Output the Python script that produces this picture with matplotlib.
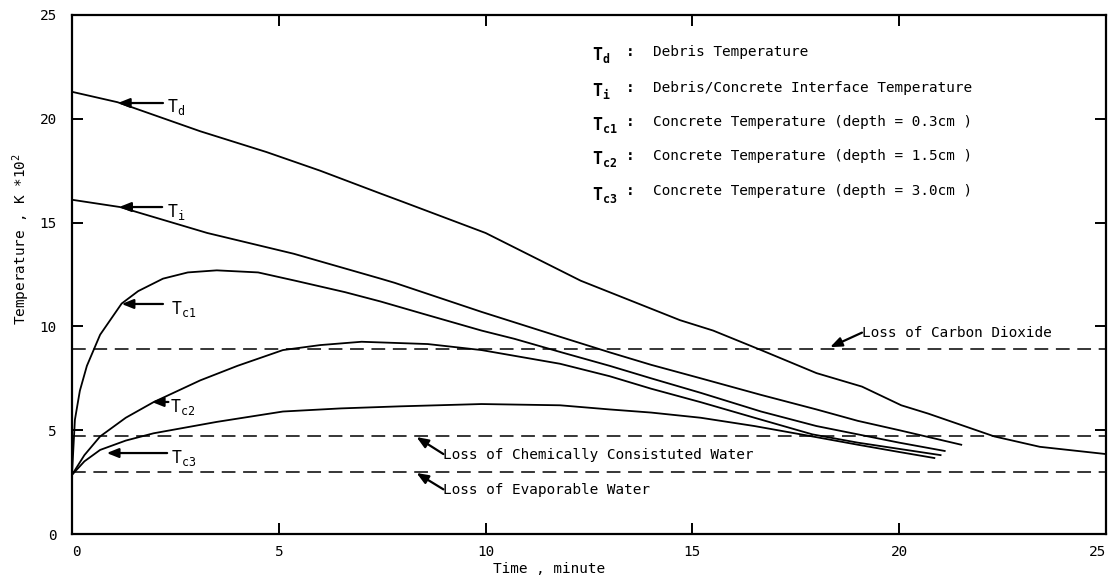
import matplotlib
matplotlib.use("Agg")
import matplotlib.pyplot as plt

plt.rcParams['font.family'] = ['DejaVu Sans Mono', 'DejaVu Sans']
plt.rcParams['mathtext.fontset'] = 'custom'
plt.rcParams['mathtext.rm'] = 'DejaVu Sans Mono'
plt.rcParams['mathtext.it'] = 'DejaVu Sans Mono'
plt.rcParams['mathtext.bf'] = 'DejaVu Sans Mono:bold'

# ---- data (time in minutes, temperature in K*1e2) ----
td_x = [0, 1.1, 3.1, 4.7, 6.0, 7.46, 8.0, 10.0, 12.3, 14.7, 15.5, 16.66, 18.0, 19.1, 20.05, 20.7, 22.3, 23.4, 25.0]
td_y = [21.3, 20.8, 19.4, 18.4, 17.5, 16.4, 16.0, 14.5, 12.2, 10.3, 9.8, 8.86, 7.75, 7.1, 6.2, 5.8, 4.7, 4.2, 3.85]

ti_x = [0, 1.16, 3.27, 5.36, 7.46, 7.8, 9.9, 11.8, 13.0, 14.0, 15.2, 16.66, 18.0, 19.0, 20.0, 21.5]
ti_y = [16.1, 15.75, 14.5, 13.5, 12.3, 12.1, 10.7, 9.5, 8.75, 8.15, 7.5, 6.7, 6.0, 5.45, 5.0, 4.3]

tc1_x = [0, 0.03, 0.07, 0.19, 0.36, 0.68, 1.2, 1.6, 2.2, 2.8, 3.5, 4.5, 5.4, 6.6, 7.46, 8.5, 9.9, 10.7, 11.8, 13.0, 14.0, 15.2, 16.66, 18.0, 19.0, 20.0, 21.1]
tc1_y = [2.85, 4.0, 5.5, 6.9, 8.1, 9.6, 11.1, 11.7, 12.3, 12.6, 12.7, 12.6, 12.2, 11.65, 11.2, 10.6, 9.8, 9.4, 8.77, 8.1, 7.5, 6.8, 5.9, 5.2, 4.8, 4.4, 4.0]

tc2_x = [0, 0.3, 0.68, 1.3, 1.97, 3.1, 4.0, 5.1, 6.0, 7.0, 8.6, 9.9, 11.8, 13.0, 14.0, 15.2, 16.5, 17.9, 19.0, 20.0, 21.0]
tc2_y = [2.85, 3.8, 4.7, 5.6, 6.35, 7.4, 8.1, 8.86, 9.1, 9.26, 9.15, 8.86, 8.2, 7.6, 7.0, 6.35, 5.6, 4.8, 4.4, 4.1, 3.8]

tc3_x = [0, 0.3, 0.68, 1.3, 1.97, 3.5, 5.1, 6.5, 7.94, 9.9, 11.8, 13.0, 14.0, 15.2, 16.5, 17.9, 19.0, 20.0, 20.85]
tc3_y = [2.85, 3.5, 4.05, 4.5, 4.85, 5.4, 5.9, 6.05, 6.15, 6.26, 6.2, 6.0, 5.85, 5.6, 5.2, 4.7, 4.3, 3.95, 3.66]

loss_levels = [8.9, 4.7, 3.0]
loss_labels = ['Loss of Carbon Dioxide', 'Loss of Chemically Consistuted Water', 'Loss of Evaporable Water']

sym_labels = [r'$\mathbf{T_{d}}$', r'$\mathbf{T_{i}}$', r'$\mathbf{T_{c1}}$', r'$\mathbf{T_{c2}}$', r'$\mathbf{T_{c3}}$']
desc_labels = ['Debris Temperature',
               'Debris/Concrete Interface Temperature',
               'Concrete Temperature (depth = 0.3cm )',
               'Concrete Temperature (depth = 1.5cm )',
               'Concrete Temperature (depth = 3.0cm )']
curve_labels = [r'$\mathrm{T_{d}}$', r'$\mathrm{T_{i}}$', r'$\mathrm{T_{c1}}$', r'$\mathrm{T_{c2}}$', r'$\mathrm{T_{c3}}$']

xticks = [0, 5, 10, 15, 20, 25]
yticks = [0, 5, 10, 15, 20, 25]

# ---- figure ----
fig = plt.figure(figsize=(11.10, 5.79), dpi=100)
ax = fig.add_axes([72/1110, 1 - 534/579, (1106 - 72)/1110, (534 - 15)/579])
ax.set_xlim(0, 25)
ax.set_ylim(0, 25)

fs = 10.4
lw = 1.3
for xs, ys in [(td_x, td_y), (ti_x, ti_y), (tc1_x, tc1_y), (tc2_x, tc2_y), (tc3_x, tc3_y)]:
    ax.plot(xs, ys, color='black', lw=lw, solid_joinstyle='round')

for lv in loss_levels:
    ax.axhline(lv, color='black', lw=1.1, linestyle=(0, (9, 5)))

# curve labels with arrows
arrow_props = dict(arrowstyle='-|>,head_length=0.7,head_width=0.28', color='black', lw=1.6,
                   shrinkA=0, shrinkB=0)
curve_arrows = [((1.11, 20.76), (2.2, 20.76), (2.3, 20.55)),
                ((1.14, 15.75), (2.18, 15.75), (2.3, 15.5)),
                ((1.2, 11.08), (2.2, 11.08), (2.4, 10.85)),
                ((1.93, 6.36), (2.33, 6.36), (2.38, 6.1)),
                ((0.84, 3.9), (2.3, 3.9), (2.4, 3.65))]
for (head, tail, tpos), lab in zip(curve_arrows, curve_labels):
    ax.annotate('', xy=head, xytext=tail, arrowprops=arrow_props)
    ax.text(tpos[0], tpos[1], lab, fontsize=fs + 1.5, ha='left', va='center')

# legend block
rows_y = [23.2, 21.5, 19.85, 18.2, 16.5]
for yv, s, d in zip(rows_y, sym_labels, desc_labels):
    ax.text(12.57, yv - 0.15, s, fontsize=fs + 1.5, ha='left', va='center')
    ax.text(13.5, yv, ':', fontsize=fs, ha='center', va='center', fontweight='bold')
    ax.text(14.04, yv, d, fontsize=fs, ha='left', va='center')

# loss annotations
loss_arrow = dict(arrowstyle='-|>,head_length=0.7,head_width=0.28', color='black', lw=1.6,
                  shrinkA=0, shrinkB=0)
ax.annotate('', xy=(18.33, 9.0), xytext=(19.1, 9.7), arrowprops=loss_arrow)
ax.text(19.1, 9.7, loss_labels[0], fontsize=fs, ha='left', va='center')
ax.annotate('', xy=(8.33, 4.67), xytext=(8.98, 3.85), arrowprops=loss_arrow)
ax.text(8.98, 3.8, loss_labels[1], fontsize=fs, ha='left', va='center')
ax.annotate('', xy=(8.33, 2.94), xytext=(8.98, 2.15), arrowprops=loss_arrow)
ax.text(8.98, 2.1, loss_labels[2], fontsize=fs, ha='left', va='center')

# ticks / spines
ax.set_xticks(xticks)
ax.set_yticks(yticks)
ax.tick_params(axis='both', direction='in', length=8, width=1.4, labelsize=fs,
               top=True, right=True)
ax.tick_params(axis='y', pad=11)
ax.tick_params(axis='x', pad=8)
for sp in ax.spines.values():
    sp.set_linewidth(1.6)
xlabels = ax.get_xticklabels()
xlabels[-1].set_horizontalalignment('right')
xlabels[0].set_horizontalalignment('left')

fig.text(549/1110, 1 - 569/579, 'Time , minute', fontsize=fs, ha='center', va='center')
fig.text(21/1110, 1 - 239/579, r'Temperature , K *10$^2$', fontsize=fs, ha='center', va='center',
         rotation=90)

fig.savefig('out.png', dpi=100)
